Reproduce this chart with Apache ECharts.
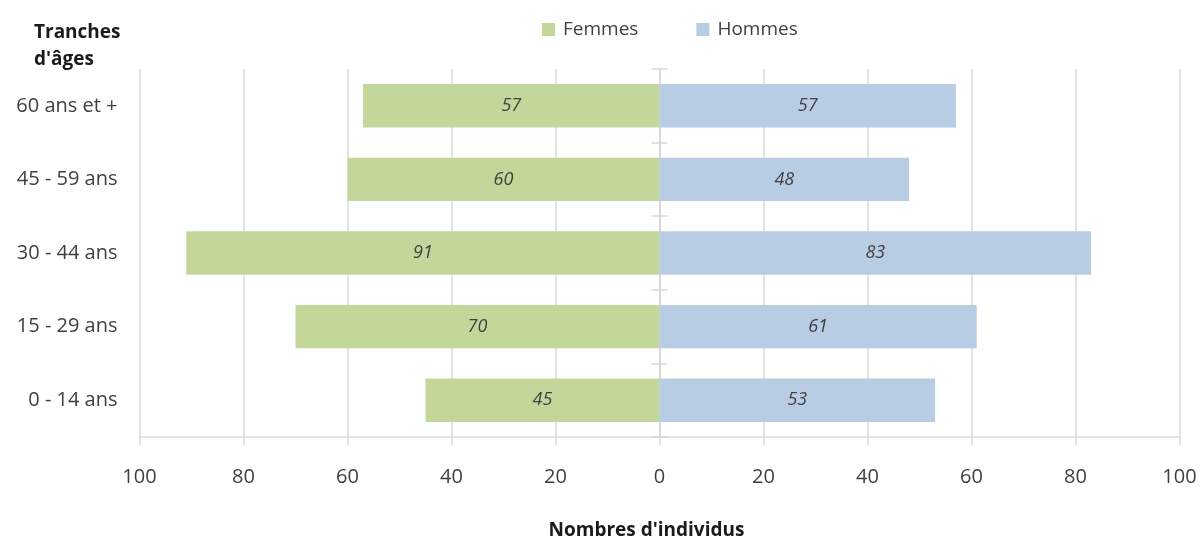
<!DOCTYPE html>
<html>
<head>
<meta charset="utf-8">
<script src="https://cdn.jsdelivr.net/npm/echarts@6/dist/echarts.min.js"></script>
<style>
  html, body { margin: 0; padding: 0; background: #fff; }
  #chart { width: 1200px; height: 538px; }
</style>
</head>
<body>
<div id="chart"></div>
<script>
// Age pyramid: women to the left (stored negative), men to the right
const categories = ['0 - 14 ans', '15 - 29 ans', '30 - 44 ans', '45 - 59 ans', '60 ans et +'];
const femmes = [45, 70, 91, 60, 57];
const hommes = [53, 61, 83, 48, 57];
const axisMin = -100;
const axisMax = 100;
const axisStep = 20;

const FONT = '"Open Sans", sans-serif';
const TEXT = '#404040';
const GRID = '#d9d9d9';
const plotRect = { left: 139.5, right: 20.5, top: 69, bottom: 101, outerBoundsMode: 'none', containLabel: false };

const chart = echarts.init(document.getElementById('chart'));

const valueLabel = {
  show: true,
  position: 'inside',
  color: TEXT,
  fontStyle: 'italic',
  fontSize: 18,
  fontFamily: FONT,
  formatter: p => Math.abs(p.value)
};

const gridLine = { color: GRID, width: 1.5 };

chart.setOption({
  animation: false,
  textStyle: { fontFamily: FONT },
  title: {
    text: 'Tranches\nd\'âges',
    left: 29,
    top: 14,
    textStyle: { fontSize: 19, fontWeight: 'bold', color: '#1a1a1a', lineHeight: 27, fontFamily: FONT }
  },
  legend: {
    top: 15,
    left: 537,
    itemWidth: 13,
    itemHeight: 13,
    itemGap: 58,
    icon: 'rect',
    textStyle: { fontSize: 19, color: TEXT, fontFamily: FONT, padding: [0, 0, 0, 3] },
    data: ['Femmes', 'Hommes']
  },
  // two identical rectangles: the second carries the zero axis with its right-hand ticks
  grid: [plotRect, plotRect],
  xAxis: [
    {
      type: 'value',
      gridIndex: 0,
      min: axisMin,
      max: axisMax,
      interval: axisStep,
      name: 'Nombres d\'individus',
      nameLocation: 'middle',
      nameGap: 84,
      nameTextStyle: { fontSize: 19, fontWeight: 'bold', color: '#1a1a1a', fontFamily: FONT, padding: [0, 26, 0, 0] },
      axisLine: { show: true, lineStyle: gridLine },
      axisTick: { show: true, length: 8, lineStyle: gridLine },
      axisLabel: { margin: 30, fontSize: 20, color: TEXT, fontFamily: FONT, formatter: v => Math.abs(v) },
      splitLine: { show: true, lineStyle: gridLine }
    },
    {
      type: 'value',
      gridIndex: 1,
      min: axisMin,
      max: axisMax,
      interval: axisStep,
      axisLine: { show: false, onZero: false },
      axisTick: { show: false },
      axisLabel: { show: false },
      splitLine: { show: false }
    }
  ],
  yAxis: [
    {
      type: 'category',
      gridIndex: 0,
      position: 'left',
      data: categories,
      axisLine: { show: false, onZero: false },
      axisTick: { show: false },
      axisLabel: { margin: 22, fontSize: 20, color: TEXT, fontFamily: FONT }
    },
    {
      // zero axis, ticks to the right
      type: 'category',
      gridIndex: 0,
      position: 'right',
      data: categories,
      axisLine: { show: true, onZero: true, lineStyle: gridLine },
      axisTick: { show: true, length: 8, lineStyle: gridLine },
      axisLabel: { show: false }
    },
    {
      // zero axis, ticks to the left
      type: 'category',
      gridIndex: 1,
      position: 'left',
      data: categories,
      axisLine: { show: true, onZero: true, lineStyle: gridLine },
      axisTick: { show: true, length: 8, lineStyle: gridLine },
      axisLabel: { show: false }
    }
  ],
  series: [
    {
      name: 'Femmes',
      type: 'bar',
      stack: 'pyramide',
      barCategoryGap: '41%',
      itemStyle: { color: '#c4d79b' },
      label: valueLabel,
      data: femmes.map(v => -v)
    },
    {
      name: 'Hommes',
      type: 'bar',
      stack: 'pyramide',
      barCategoryGap: '41%',
      itemStyle: { color: '#b8cce4' },
      label: valueLabel,
      data: hommes
    }
  ]
});
</script>
</body>
</html>
